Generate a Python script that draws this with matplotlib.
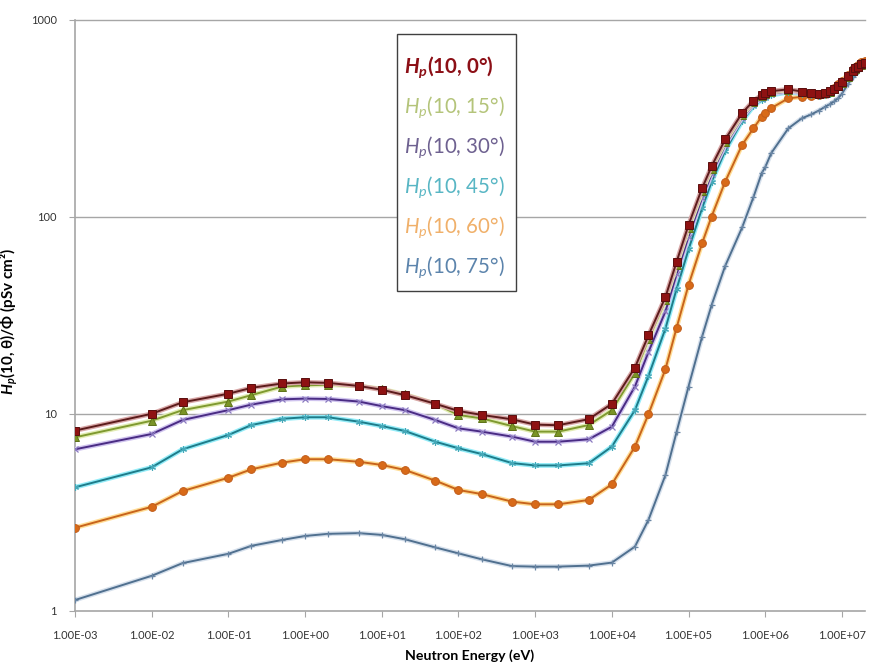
import matplotlib
matplotlib.use("Agg")
import matplotlib.pyplot as plt
import matplotlib.patheffects as pe
from matplotlib.patches import Rectangle

plt.rcParams['font.family'] = ['Lato', 'DejaVu Sans']
plt.rcParams['mathtext.fontset'] = 'custom'
plt.rcParams['mathtext.rm'] = 'Lato'
plt.rcParams['mathtext.it'] = 'Lato:italic'
plt.rcParams['mathtext.bf'] = 'Lato:bold:italic'

# Neutron energy (eV)
energy = [1e-3, 1e-2, 2.53e-2, 1e-1, 2e-1, 5e-1, 1, 2, 5, 10, 20, 50, 100, 200, 500,
          1e3, 2e3, 5e3, 1e4, 2e4, 3e4, 5e4, 7e4, 1e5, 1.5e5, 2e5, 3e5, 5e5, 7e5, 9e5,
          1e6, 1.2e6, 2e6, 3e6, 4e6, 5e6, 6e6, 7e6, 8e6, 9e6, 1e7, 1.2e7, 1.4e7, 1.5e7,
          1.6e7, 1.8e7, 2e7]

hp_0 = [8.19, 9.97, 11.4, 12.6, 13.5, 14.2, 14.4, 14.3, 13.8, 13.2,
        12.4, 11.2, 10.3, 9.84, 9.34, 8.78, 8.72, 9.36, 11.2, 17.1,
        24.9, 39.0, 59.0, 90.6, 139, 180, 246, 335, 386, 414,
        422, 433, 442, 431, 422, 420, 423, 432, 445, 461,
        480, 517, 550, 564, 576, 595, 600]
hp_15 = [7.57, 9.19, 10.4, 11.5, 12.4, 13.7, 13.9, 14.0, 13.8, 13.3,
         12.5, 11.2, 9.83, 9.45, 8.63, 8.09, 8.09, 8.74, 10.4, 16.0,
         23.8, 37.5, 57.0, 87.0, 134, 175, 240, 328, 380, 409,
         417, 428, 439, 430, 423, 420, 422, 431, 443, 458,
         476, 512, 545, 559, 571, 590, 600]
hp_30 = [6.58, 7.87, 9.27, 10.4, 11.1, 11.8, 11.9, 11.85, 11.5, 10.9,
         10.4, 9.27, 8.41, 8.09, 7.63, 7.19, 7.19, 7.40, 8.57, 13.7,
         20.5, 33.0, 51.0, 79.0, 124, 164, 230, 318, 371, 400,
         408, 420, 432, 424, 417, 414, 416, 425, 437, 452,
         470, 506, 539, 553, 565, 585, 598]
hp_45 = [4.22, 5.33, 6.58, 7.78, 8.74, 9.40, 9.57, 9.57, 9.09, 8.64,
         8.15, 7.19, 6.66, 6.23, 5.60, 5.45, 5.45, 5.59, 6.79, 10.4,
         15.5, 27.0, 43.0, 68.0, 110, 150, 215, 305, 362, 392,
         400, 413, 428, 420, 413, 410, 412, 421, 434, 449,
         467, 503, 537, 551, 564, 584, 600]
hp_60 = [2.63, 3.36, 4.04, 4.72, 5.21, 5.63, 5.86, 5.86, 5.69, 5.48,
         5.17, 4.56, 4.09, 3.90, 3.57, 3.46, 3.46, 3.64, 4.37, 6.79,
         9.91, 16.8, 27.3, 44.9, 73.0, 100, 150, 231, 280, 321,
         335, 355, 398, 405, 408, 412, 418, 430, 450, 470,
         490, 525, 560, 575, 585, 605, 615]
hp_75 = [1.13, 1.50, 1.74, 1.94, 2.13, 2.28, 2.39, 2.45, 2.47, 2.42,
         2.30, 2.09, 1.95, 1.82, 1.68, 1.67, 1.67, 1.69, 1.75, 2.11,
         2.88, 4.87, 8.08, 13.7, 24.5, 35.5, 56.0, 88.0, 125, 166,
         178, 210, 280, 315, 330, 345, 360, 372, 385, 400,
         420, 470, 510, 530, 545, 570, 590]

angles = ['0', '15', '30', '45', '60', '75']
series = [hp_0, hp_15, hp_30, hp_45, hp_60, hp_75]

x_ticks = [1e-3, 1e-2, 1e-1, 1e0, 1e1, 1e2, 1e3, 1e4, 1e5, 1e6, 1e7]
x_tick_labels = ['1.00E-03', '1.00E-02', '1.00E-01', '1.00E+00', '1.00E+01', '1.00E+02',
                 '1.00E+03', '1.00E+04', '1.00E+05', '1.00E+06', '1.00E+07']
y_ticks = [1, 10, 100, 1000]
y_tick_labels = ['1', '10', '100', '1000']

styles = [
    dict(color='#5C1C1C', halo='#D9A8A8', marker='s', ms=5.6, mfc='#8E1212', mec='#5A0E0E', mew=0.7),
    dict(color='#7F9A30', halo='#E2ECB4', marker='^', ms=5.6, mfc='#7A9426', mec='#5E7318', mew=0.7),
    dict(color='#4A2C84', halo='#CFC3EE', marker='x', ms=4.5, mfc='#8A7AC0', mec='#8A7AC0', mew=0.9),
    dict(color='#1E7C8A', halo='#93ECF8', marker=(6, 2, 0), ms=5, mfc='#45A8B8', mec='#45A8B8', mew=0.8),
    dict(color='#C8641C', halo='#FFDD96', marker='o', ms=5.6, mfc='#D86A18', mec='#C05C1A', mew=0.7),
    dict(color='#50708F', halo='#D6E0EC', marker='+', ms=5, mfc='#50708F', mec='#6A86A4', mew=0.9),
]
legend_colors = ['#8C0F16', '#B4C47A', '#6E6190', '#58B6C4', '#F0B06A', '#5C84AC']

W, H = 871, 664
fig = plt.figure(figsize=(W / 100, H / 100), dpi=100)
ax = fig.add_axes([75 / W, 1 - 610.5 / H, 790 / W, 591 / H])

for yv in y_ticks[1:]:
    ax.axhline(yv, color='#A6A6A6', lw=1.0, zorder=1, clip_on=False)

order = [5, 4, 3, 2, 1, 0]
for i in order:
    st = styles[i]
    z = 3 + 2 * (5 - i)
    ax.plot(energy, series[i], color=st['color'], lw=1.4, zorder=z,
            path_effects=[pe.Stroke(linewidth=3.4, foreground=st['halo']), pe.Normal()])
    ax.plot(energy, series[i], linestyle='none', marker=st['marker'], ms=st['ms'],
            mfc=st['mfc'], mec=st['mec'], mew=st['mew'], zorder=z + 1)

ax.set_xscale('log')
ax.set_yscale('log')
ax.set_xlim(1e-3, 2e7)
ax.set_ylim(1, 1000)
ax.set_xticks(x_ticks)
ax.set_xticklabels(x_tick_labels)
ax.set_yticks(y_ticks)
ax.set_yticklabels(y_tick_labels)
ax.minorticks_off()
ax.tick_params(axis='both', which='major', length=4, color='#A6A6A6', labelsize=8,
               labelcolor='#333333')
ax.tick_params(axis='x', pad=10)
ax.tick_params(axis='y', pad=9)
for s in ['top', 'right']:
    ax.spines[s].set_visible(False)
for s in ['left', 'bottom']:
    ax.spines[s].set_color('#A6A6A6')
    ax.spines[s].set_linewidth(1.2)

ax.set_xlabel('Neutron Energy (eV)', fontsize=10.2, fontweight='bold', labelpad=6)
ax.set_ylabel(r'$\mathbf{H_p}$(10, θ)/Φ (pSv cm²)', fontsize=11, fontweight='bold')
ax.yaxis.set_label_coords((20 - 75) / 790, 0.49)

# legend box (text-only entries)
lx0, ly0, lx1, ly1 = 397, 34, 516, 290.5
fig.patches.append(Rectangle((lx0 / W, 1 - ly1 / H), (lx1 - lx0) / W, (ly1 - ly0) / H,
                             transform=fig.transFigure, facecolor='white',
                             edgecolor='#404040', lw=1.0, zorder=10))
ys = [67, 107, 147, 187, 227, 267]
for k, a in enumerate(angles):
    if k == 0:
        label = r'$\mathbf{H_p}$(10, ' + a + '°)'
        fw = 'bold'
    else:
        label = r'$H_p$(10, ' + a + '°)'
        fw = 'normal'
    fig.text(404 / W, 1 - ys[k] / H, label, color=legend_colors[k], fontsize=14.8,
             fontweight=fw, va='center', ha='left', zorder=11)

fig.savefig('out.png', dpi=100, facecolor='white')
